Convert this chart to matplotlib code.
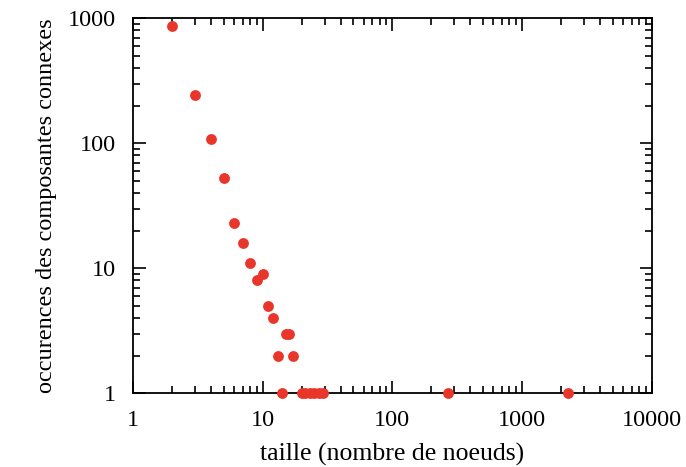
import numpy as np
import matplotlib.pyplot as plt
from matplotlib.ticker import LogLocator, FixedLocator, NullFormatter

# taille des composantes / nombre d'occurences
taille = [2, 3, 4, 5, 6, 7, 8, 9, 10, 11, 12, 13, 14, 15, 16, 17,
          20, 21, 23, 25, 27, 29, 270, 2250]
occurences = [870, 242, 108, 53, 23, 16, 11, 8, 9, 5, 4, 2, 1, 3, 3, 2,
              1, 1, 1, 1, 1, 1, 1, 1]

x_ticks = [1, 10, 100, 1000, 10000]
y_ticks = [1, 10, 100, 1000]

plt.rcParams['font.family'] = ['Liberation Serif', 'DejaVu Serif']
plt.rcParams['font.size'] = 17.5

fig = plt.figure(figsize=(6.86, 4.67), dpi=100)
ax = fig.add_axes([0.194, 0.158, 0.756, 0.803])

ax.plot(taille, occurences, 'o', color='#e8362a', markersize=7.8,
        markeredgewidth=0, clip_on=False, zorder=5)

ax.set_xscale('log')
ax.set_yscale('log')
ax.set_xlim(1, 10000)
ax.set_ylim(1, 1000)

ax.xaxis.set_major_locator(FixedLocator(x_ticks))
ax.yaxis.set_major_locator(FixedLocator(y_ticks))
ax.set_xticklabels([str(v) for v in x_ticks])
ax.set_yticklabels([str(v) for v in y_ticks])
ax.xaxis.set_minor_locator(LogLocator(base=10, subs=np.arange(2, 10)))
ax.yaxis.set_minor_locator(LogLocator(base=10, subs=np.arange(2, 10)))
ax.xaxis.set_minor_formatter(NullFormatter())
ax.yaxis.set_minor_formatter(NullFormatter())

ax.tick_params(which='both', direction='in', top=True, right=True, width=1.2)
ax.tick_params(which='major', length=9, pad=12)
ax.tick_params(which='minor', length=5)
for s in ax.spines.values():
    s.set_linewidth(1.3)

ax.set_xlabel('taille (nombre de noeuds)', fontsize=18.5, labelpad=9)
ax.set_ylabel('occurences des composantes connexes', labelpad=8)

fig.savefig('out.png', dpi=100)
